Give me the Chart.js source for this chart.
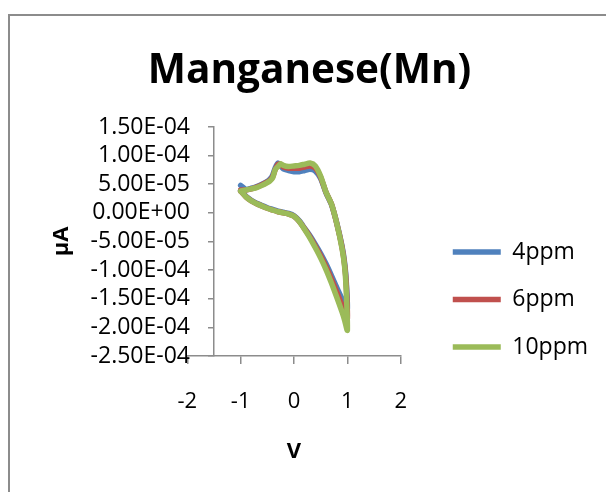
<!DOCTYPE html>
<html>
<head>
<meta charset="utf-8">
<script src="https://cdn.jsdelivr.net/npm/chart.js@4.4.1/dist/chart.umd.min.js"></script>
<style>
  html, body { margin: 0; padding: 0; background: #fff; }
  #wrap { position: relative; width: 606px; height: 492px; overflow: hidden; }
  #wrap canvas { position: absolute; left: 0; top: 0; }
  #marco { position: absolute; left: 8px; top: 14px; width: 700px; height: 600px; border: 2px solid #8c8c8c; pointer-events: none; }
</style>
</head>
<body>
<div id="wrap">
  <canvas id="cvChart" width="606" height="492" style="width:606px;height:492px"></canvas>
  <div id="marco"></div>
</div>
<script>
// barrido de potencial (V): ida de -1 a 1 y vuelta a -1
var voltaje = [-1.0, -0.9, -0.8, -0.7, -0.6, -0.5, -0.45, -0.4, -0.35, -0.3, -0.25, -0.2, -0.1, 0.0, 0.1, 0.2, 0.3, 0.4, 0.5, 0.6, 0.7, 0.8, 0.9, 0.95, 0.98, 1.0,
               0.95, 0.9, 0.8, 0.7, 0.6, 0.5, 0.4, 0.3, 0.2, 0.1, 0.0, -0.1, -0.2, -0.3, -0.4, -0.5, -0.6, -0.7, -0.8, -0.9, -1.0];

var corriente4ppm = [4.8e-5, 4.1e-5, 4.3e-5, 4.6e-5, 5.0e-5, 5.5e-5, 5.9e-5, 6.6e-5, 7.9e-5, 8.7e-5, 8.2e-5, 7.7e-5, 7.4e-5, 7.2e-5, 7.2e-5, 7.4e-5, 7.6e-5, 7.3e-5, 6.0e-5, 3.5e-5, 1.5e-5, -1.7e-5, -5.8e-5, -8.8e-5, -1.2e-4, -1.68e-4,
                     -1.58e-4, -1.5e-4, -1.3e-4, -1.09e-4, -8.9e-5, -7.1e-5, -5.5e-5, -4.0e-5, -2.7e-5, -1.4e-5, -0.5e-5, -0.1e-5, 0.1e-5, 0.3e-5, 0.6e-5, 0.9e-5, 1.3e-5, 1.7e-5, 2.2e-5, 2.9e-5, 3.9e-5];

var corriente6ppm = [4.0e-5, 4.0e-5, 4.2e-5, 4.5e-5, 4.9e-5, 5.4e-5, 5.7e-5, 6.3e-5, 7.6e-5, 8.5e-5, 8.5e-5, 8.0e-5, 7.8e-5, 7.8e-5, 7.8e-5, 8.0e-5, 8.2e-5, 7.8e-5, 6.2e-5, 3.6e-5, 1.6e-5, -1.8e-5, -6.0e-5, -9.2e-5, -1.26e-4, -1.85e-4,
                     -1.72e-4, -1.61e-4, -1.38e-4, -1.15e-4, -9.4e-5, -7.5e-5, -5.8e-5, -4.2e-5, -2.8e-5, -1.5e-5, -0.6e-5, -0.2e-5, 0.0, 0.2e-5, 0.5e-5, 0.8e-5, 1.2e-5, 1.6e-5, 2.1e-5, 2.8e-5, 3.8e-5];

var corriente10ppm = [3.8e-5, 4.0e-5, 4.2e-5, 4.4e-5, 4.8e-5, 5.3e-5, 5.6e-5, 6.1e-5, 7.6e-5, 8.1e-5, 8.6e-5, 8.3e-5, 8.1e-5, 8.2e-5, 8.3e-5, 8.5e-5, 8.7e-5, 8.2e-5, 6.4e-5, 3.6e-5, 1.6e-5, -1.8e-5, -6.2e-5, -9.5e-5, -1.38e-4, -2.05e-4,
                      -1.88e-4, -1.73e-4, -1.47e-4, -1.22e-4, -9.9e-5, -7.9e-5, -6.1e-5, -4.4e-5, -2.9e-5, -1.5e-5, -0.6e-5, -0.2e-5, 0.0, 0.2e-5, 0.5e-5, 0.8e-5, 1.2e-5, 1.6e-5, 2.1e-5, 2.8e-5, 3.8e-5];

var series = ['4ppm', '6ppm', '10ppm'];
var corrientes = [corriente4ppm, corriente6ppm, corriente10ppm];
var colores = ['#4F81BD', '#C0504D', '#9BBB59'];

var ticksX = [-2, -1, 0, 1, 2];
var ticksY = [-2.5e-4, -2.0e-4, -1.5e-4, -1.0e-4, -5.0e-5, 0, 5.0e-5, 1.0e-4, 1.5e-4];
var cruceEjeY = -1.5; // el eje vertical corta al horizontal en V = -1.5

var titulo = 'Manganese(Mn)';
var tituloX = 'V';
var tituloY = 'μA';

var FUENTE = "'Open Sans', sans-serif";
var GRIS = '#8c8c8c';

// formato de Excel: 1.50E-04
function formatoCientifico(v) {
    if (Math.abs(v) < 1e-12) v = 0;
    var partes = v.toExponential(2).split('e');
    var exp = parseInt(partes[1], 10);
    return partes[0] + 'E' + (exp < 0 ? '-' : '+') + String(Math.abs(exp)).padStart(2, '0');
}

var datasets = series.map(function(nombre, i) {
    return {
        label: nombre,
        data: voltaje.map(function(v, j) { return {x: v, y: corrientes[i][j]}; }),
        showLine: true,
        borderColor: colores[i],
        backgroundColor: colores[i],
        borderWidth: 5.5,
        borderCapStyle: 'round',
        borderJoinStyle: 'round',
        pointRadius: 0,
        tension: 0.25,
        order: series.length - i
    };
});

// mueve el eje Y (linea, marcas y etiquetas) hasta el punto de cruce
var moverEjeY = {
    id: 'moverEjeY',
    afterLayout: function(chart) {
        var y = chart.scales.y;
        var d = chart.scales.x.getPixelForValue(cruceEjeY) - y.right;
        y.left += d;
        y.right += d;
    }
};

var ctx = document.getElementById('cvChart').getContext('2d');
var cvChart = new Chart(ctx, {
    type: 'scatter',
    data: { datasets: datasets },
    plugins: [moverEjeY],
    options: {
        responsive: false,
        animation: false,
        layout: { padding: { left: 21, right: 8, top: 0, bottom: 0 } },
        plugins: {
            title: {
                display: true,
                text: titulo,
                color: '#000',
                font: { family: FUENTE, size: 40.5, weight: 'bold' },
                padding: { top: 47.2, bottom: 31.2 }
            },
            legend: {
                position: 'right',
                maxWidth: 300,
                title: { display: true, text: '', font: { size: 10 }, padding: { top: 95, bottom: 0 } },
                labels: {
                    usePointStyle: true,
                    pointStyle: 'line',
                    pointStyleWidth: 48,
                    color: '#000',
                    font: { family: FUENTE, size: 23 },
                    padding: 24.5,
                    sort: function(a, b) { return a.datasetIndex - b.datasetIndex; }
                }
            },
            tooltip: { enabled: false }
        },
        scales: {
            x: {
                type: 'linear',
                position: 'bottom',
                min: -2,
                max: 2,
                afterBuildTicks: function(s) { s.ticks = ticksX.map(function(v) { return {value: v}; }); },
                ticks: { color: '#000', font: { family: FUENTE, size: 22 }, padding: 25, autoSkip: false },
                grid: { drawOnChartArea: false, tickLength: 8, color: GRIS, lineWidth: 1.5 },
                border: { color: GRIS, width: 1.5 },
                title: { display: true, text: tituloX, color: '#000', font: { family: FUENTE, size: 22, weight: 'bold' }, padding: { top: 0, bottom: 27 } },
                afterFit: function(s) { s.height = 136; }
            },
            y: {
                type: 'linear',
                position: 'left',
                min: -2.5e-4,
                max: 1.5e-4,
                afterBuildTicks: function(s) { s.ticks = ticksY.map(function(v) { return {value: v}; }); },
                ticks: { color: '#000', font: { family: FUENTE, size: 23 }, padding: 18, autoSkip: false, callback: function(v) { return formatoCientifico(v); } },
                grid: { drawOnChartArea: false, tickLength: 6, color: GRIS, lineWidth: 1.5 },
                border: { color: GRIS, width: 1.5 },
                title: { display: true, text: tituloY, color: '#000', font: { family: FUENTE, size: 22, weight: 'bold' }, padding: { top: 1, bottom: 0 } },
                afterFit: function(s) { s.width = 187.3 - 21; }
            },
            hueco: {
                type: 'linear',
                position: 'right',
                ticks: { display: false },
                grid: { display: false },
                border: { display: false },
                afterFit: function(s) {
                    var ancho = s.chart.legend ? s.chart.legend.width : 0;
                    s.width = Math.max(0, 606 - 8 - ancho - 400.7);
                }
            }
        }
    }
});
</script>
</body>
</html>
